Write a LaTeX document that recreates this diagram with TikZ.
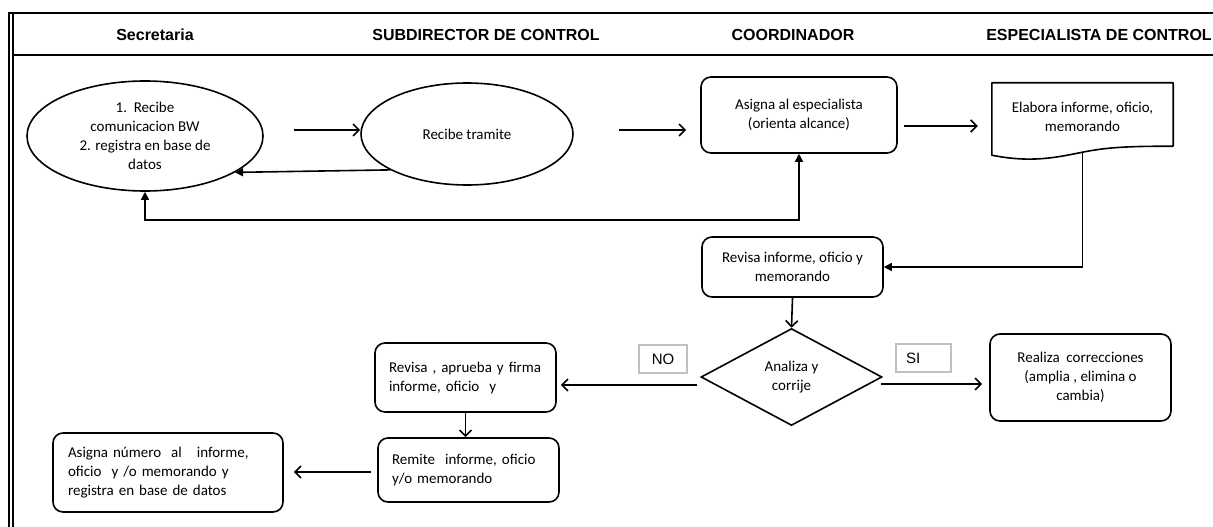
\documentclass[tikz,border=0pt]{standalone}
\usepackage{fontspec}
\setmainfont{Carlito}
\newfontfamily\headfont{Liberation Sans}
\usetikzlibrary{arrows.meta,shapes.geometric}

\tikzset{
  body/.style={font=\fontsize{15}{19}\selectfont},
  lanehead/.style={font=\headfont\bfseries\fontsize{16}{18}\selectfont, inner sep=0},
  stepbox/.style={body, draw, line width=1.6pt, rounded corners=10pt, align=center, inner sep=0},
  leftbox/.style={stepbox, align=left},
  ovalbox/.style={body, draw, ellipse, line width=1.6pt, align=center, inner sep=0},
  choicebox/.style={body, draw, diamond, line width=1.6pt, align=center, inner sep=0},
  tagbox/.style={draw=black!25, line width=1.5pt, font=\headfont\fontsize{15}{18}\selectfont, inner sep=0},
  flow/.style={line width=1.6pt, -{Straight Barb[length=6pt,width=12pt]}},
  solidflow/.style={line width=1.6pt, -{Triangle[length=8pt,width=8pt]}},
  twoway/.style={line width=1.6pt, {Triangle[length=8pt,width=8pt]}-{Triangle[length=8pt,width=8pt]}},
  frame/.style={line width=1.7pt}
}

\begin{document}
\begin{tikzpicture}[x=1pt,y=-1pt]
\useasboundingbox (0,0) rectangle (1213,527);

% lane frame and header row
\draw[frame, line width=2.4pt] (8,13) -- (1213,13);
\draw[frame, line width=2pt] (13,55) -- (1213,55);
\draw[frame] (9,12) -- (9,527);
\draw[frame] (13,13) -- (13,527);

\node[lanehead] (h1) at (155,35) {Secretaria};
\node[lanehead] (h2) at (486,35) {SUBDIRECTOR DE CONTROL};
\node[lanehead] (h3) at (793,35) {COORDINADOR};
\node[lanehead] (h4) at (1099,35) {ESPECIALISTA DE CONTROL};

% steps
\node[ovalbox, minimum width=236, minimum height=110] (e1) at (145,136)
  {1.\ \ Recibe\\comunicacion BW\\2. registra en base de\\datos};
\node[ovalbox, minimum width=212, minimum height=102] (e2) at (467,134) {Recibe tramite};
\node[stepbox, minimum width=196, minimum height=76] (asig) at (799,115)
  {\rule{0pt}{6pt}Asigna al especialista\\(orienta alcance)};

% document shape with a wavy lower edge
\node[body, align=center, minimum width=181, minimum height=68, inner sep=0] (elab) at (1082.5,117)
  {Elabora informe, oficio,\\memorando};
\draw[line width=1.6pt, line join=round] (elab.north west) -- (elab.north east) -- ([yshift=5pt]elab.south east)
  .. controls +(-45,0) and +(25,-5) .. ([yshift=-1pt]elab.south)
  .. controls +(-25,5) and +(40,8) .. ([yshift=-4pt]elab.south west) -- cycle;

\node[stepbox, minimum width=181, minimum height=60] (rev) at (792.5,267)
  {\rule{0pt}{6pt}Revisa informe, oficio y\\memorando};
\node[choicebox, minimum width=181, minimum height=97] (dec) at (791.5,377) {Analiza y\\corrije};
\node[stepbox, minimum width=181, minimum height=87] (real) at (1080.5,377.5)
  {Realiza\ \ correcciones\\(amplia , elimina o\\cambia)};
\node[leftbox, minimum width=181, minimum height=69, text width=153, inner xsep=14] (rev2) at (465.5,377.5)
  {Revisa , aprueba y firma\\informe, oficio\ \ y};
\node[leftbox, minimum width=181, minimum height=64, text width=153, inner xsep=14] (remi) at (468.5,470)
  {Remite\ \ informe, oficio\\y/o memorando};
\node[leftbox, minimum width=230, minimum height=79, text width=200, inner xsep=15] (asnum) at (168,472.5)
  {Asigna número\ \ al\ \ \ informe,\\oficio\ \ y /o memorando y\\registra en base de datos};

% answer tags
\node[tagbox, minimum width=48, minimum height=28] (tno) at (663,359) {NO};
\node[tagbox, minimum width=55, minimum height=28, text width=35, inner xsep=10, align=left] (tsi) at (923.5,358) {SI};

% connectors
\draw[flow] ([shift={(30,-6)}]e1.east) -- ([yshift=4pt]e2.west);
\draw[solidflow] (e2.205.6) -- (e1.338.4);
\draw[twoway] (e1.south) -- ++(0,28) -| (asig.south);
\draw[flow] ([shift={(45,-4)}]e2.east) -- ([shift={(-14,15)}]asig.west);
\draw[flow] ([shift={(6,11)}]asig.east) -- ([shift={(-14,9)}]elab.west);
\draw[solidflow] ([yshift=-1pt]elab.south) |- (rev.east);
\draw[flow] (rev.south) -- (dec.north);
\draw[flow] ([shift={(-3,8)}]dec.west) -- ([shift={(4,7.5)}]rev2.east);
\draw[flow] ([shift={(-2,7)}]dec.east) -- ([shift={(-7,6.5)}]real.west);
\draw[flow] (rev2.south) -- (rev2.south |- remi.north);
\draw[flow] ([shift={(-6,2)}]remi.west) -- ([shift={(10,-0.5)}]asnum.east);

\end{tikzpicture}
\end{document}
